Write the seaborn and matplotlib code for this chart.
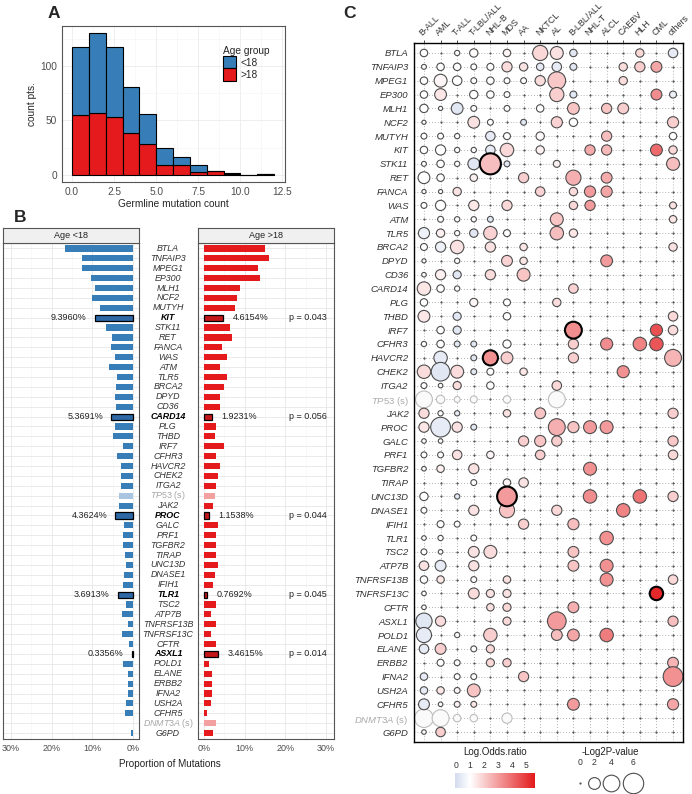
import numpy as np
import pandas as pd
import seaborn as sns
import matplotlib.pyplot as plt
import matplotlib.transforms as mtransforms
from matplotlib.colors import LinearSegmentedColormap, Normalize
from matplotlib.cm import ScalarMappable
from matplotlib.ticker import FuncFormatter

# --- panel A: germline mutation count histogram --------------------
bin_left = np.arange(12)
count_u18 = [62, 73, 64, 43, 28, 16, 7, 6, 0, 1, 0, 0]
count_o18 = [55, 57, 53, 38, 28, 9, 9, 3, 4, 1, 0, 1]

# --- panel B: proportion of mutations per gene ---------------------
genes = ["BTLA", "TNFAIP3", "MPEG1", "EP300", "MLH1", "NCF2", "MUTYH", "KIT",
         "STK11", "RET", "FANCA", "WAS", "ATM", "TLR5", "BRCA2", "DPYD", "CD36",
         "CARD14", "PLG", "THBD", "IRF7", "CFHR3", "HAVCR2", "CHEK2", "ITGA2",
         "TP53", "JAK2", "PROC", "GALC", "PRF1", "TGFBR2", "TIRAP", "UNC13D",
         "DNASE1", "IFIH1", "TLR1", "TSC2", "ATP7B", "TNFRSF13B", "TNFRSF13C",
         "CFTR", "ASXL1", "POLD1", "ELANE", "ERBB2", "IFNA2", "USH2A", "CFHR5",
         "DNMT3A", "G6PD"]
prop_u18 = [16.7, 12.5, 12.5, 10.4, 9.3, 10.0, 8.0, 9.396, 6.6, 5.2, 5.5, 4.5,
            5.8, 3.8, 4.2, 4.4, 4.2, 5.3691, 4.4, 4.8, 2.4, 3.8, 3.0, 3.0, 3.0,
            3.4, 3.4, 4.3624, 2.1, 2.4, 2.4, 1.9, 1.6, 2.1, 2.4, 3.6913, 1.7,
            2.8, 1.3, 2.8, 0.9, 0.3356, 2.4, 1.3, 1.3, 1.3, 1.6, 1.9, 0.0, 0.5]
prop_o18 = [14.9, 16.0, 13.3, 13.8, 8.8, 8.0, 7.7, 4.6154, 6.4, 6.8, 4.5, 5.7,
            3.8, 5.7, 5.0, 3.8, 3.8, 1.9231, 3.0, 2.6, 4.9, 3.0, 3.8, 3.4, 2.9,
            2.6, 2.2, 1.1538, 3.4, 3.0, 3.0, 3.0, 3.4, 2.6, 2.2, 0.7692, 3.0,
            1.6, 3.0, 1.6, 3.0, 3.4615, 1.1, 1.9, 1.9, 1.9, 1.6, 0.8, 3.0, 2.2]
sig_genes = ["KIT", "CARD14", "PROC", "TLR1", "ASXL1"]
sig_pvals = ["0.043", "0.056", "0.044", "0.045", "0.014"]
synonymous = ["TP53", "DNMT3A"]

# --- panel C: enrichment per cancer type ---------------------------
cancer_types = ["B-ALL", "AML", "T-ALL", "T-LBL/ALL", "NHL-B", "MDS", "AA",
                "NKTCL", "AL", "B-LBL/ALL", "NHL-T", "ALCL", "CAEBV", "HLH",
                "CML", "others"]
neg_log2p = [
    [0.8, 0, 0.4, 1.0, 0, 0.8, 0, 3.3, 2.4, 0.8, 0, 0, 0, 1.0, 0, 1.3],
    [0.35, 0.8, 0.8, 0.5, 0.7, 1.5, 1.0, 0.8, 1.3, 0.7, 0, 0, 1.0, 1.5, 1.7, 0],
    [0.8, 2.4, 1.3, 0.5, 0.8, 0.5, 0.5, 1.5, 4.5, 0, 0, 0, 1.0, 0, 0, 0],
    [0.8, 2.0, 0, 1.0, 0.8, 0.5, 0, 0, 2.9, 0.7, 0, 0, 0, 0, 1.7, 0.7],
    [1.0, 0.25, 2.0, 0.5, 0, 0.5, 0, 0.8, 0, 2.0, 0, 1.5, 1.7, 0, 0, 0],
    [0.25, 0, 0, 2.0, 0.5, 0, 0.5, 0, 1.8, 1.0, 0, 0, 0, 0, 0, 1.8],
    [0.5, 0.5, 0.4, 0, 1.3, 0.7, 0, 1.0, 0, 0, 0, 1.5, 0, 0, 0, 0.8],
    [0.8, 1.5, 0.4, 0.4, 1.3, 2.6, 0, 1.0, 0, 0, 1.5, 1.5, 0, 0, 2.0, 1.0],
    [0.35, 0.8, 0.4, 2.0, 6.4, 0.5, 0, 0, 0.7, 0, 0, 0, 0, 0, 0, 2.4],
    [2.0, 0.8, 0, 0.8, 0, 0, 1.5, 0, 0, 3.3, 0, 1.7, 0, 0, 0, 0],
    [0.25, 0.25, 1.0, 0, 0, 0, 0, 1.3, 0, 1.0, 1.8, 1.8, 0, 0, 0, 0],
    [0.5, 1.5, 0, 1.5, 0, 1.5, 0, 0, 0, 1.0, 1.5, 0, 0, 0, 0, 0.7],
    [0, 0.5, 0.4, 0.4, 0.5, 0, 0, 0, 2.4, 0, 0, 0, 0, 0, 0, 0.8],
    [1.8, 1.0, 0.4, 1.0, 2.6, 0.7, 0, 0, 2.6, 1.0, 0, 0, 0, 0, 0, 0],
    [0.7, 1.5, 2.6, 0, 1.5, 0, 0.8, 0, 0, 0, 0, 0, 0, 0, 0, 1.0],
    [0.25, 0, 0.4, 0, 0, 1.7, 0.8, 0, 0, 0, 0, 2.0, 0, 0, 0, 0],
    [0.3, 1.5, 0.95, 0, 1.5, 0, 2.4, 0, 0, 0, 0, 0, 0, 0, 0, 0],
    [2.6, 0.8, 0.4, 0, 0, 0, 0, 0, 0, 1.3, 0, 0, 0, 0, 0, 0],
    [0.8, 0, 0, 0.95, 0, 0.7, 0, 0, 1.0, 0, 0, 0, 0, 0, 0, 0],
    [2.0, 0, 0.95, 0, 0, 0.8, 0, 0, 0, 0, 0, 0, 0, 0, 0, 1.3],
    [0, 0.8, 0.95, 0, 0, 0, 0, 0, 0, 4.1, 0, 0, 0, 0, 2.1, 1.3],
    [0.4, 0.8, 0.5, 0.5, 0, 0.95, 0, 0, 0, 1.5, 0, 2.1, 0, 2.6, 2.6, 0],
    [0, 2.6, 0, 0.5, 3.3, 2.0, 0, 0, 0, 1.5, 0, 0, 0, 0, 0, 4.1],
    [2.6, 5.0, 2.4, 0.5, 0.7, 0, 0.8, 0, 0, 0, 0, 0, 2.1, 0, 0, 0],
    [0.5, 0.3, 0.95, 0, 0.8, 0, 0, 0, 1.3, 0, 0, 0, 0, 0, 0, 0],
    [4.1, 1.0, 0.5, 0.7, 0, 0.8, 0, 0, 4.1, 0, 0, 0, 0, 0, 0, 0],
    [1.5, 0.4, 0.4, 0, 0, 0.8, 0, 1.7, 0, 0, 0, 0, 0, 0, 0, 1.5],
    [1.5, 5.6, 1.5, 0.5, 0, 0, 0, 0, 4.1, 1.8, 2.4, 2.4, 0, 0, 0, 0],
    [0.3, 0.3, 0, 0, 0, 0, 1.5, 1.8, 1.5, 0, 0, 0, 0, 0, 0, 1.5],
    [0.5, 0.5, 1.3, 0, 0.8, 0, 0, 1.3, 0, 0, 0, 0, 0, 0, 0, 1.3],
    [0.3, 0.8, 0, 1.5, 0, 0, 0, 0, 0, 0, 2.4, 0, 0, 0, 0, 0],
    [0, 0, 0, 0.5, 0, 0.8, 1.3, 0, 0, 0, 0, 0, 0, 0, 0, 0],
    [1.0, 0, 0.4, 0, 0, 5.6, 0, 0, 0, 0, 2.6, 0, 0, 2.6, 0, 1.5],
    [0.5, 0, 0, 1.5, 0, 3.3, 0, 0, 1.5, 0, 0, 0, 2.6, 0, 0, 0],
    [0, 0.7, 0.5, 0, 0, 0, 1.5, 0, 0, 1.8, 0, 0, 0, 0, 0, 0],
    [0.3, 0.4, 0, 0.5, 0, 0, 0, 0, 0, 0, 0, 2.6, 0, 0, 0, 0],
    [0.5, 0.3, 0, 1.7, 2.4, 0, 0, 0, 0, 1.7, 0, 0, 0, 0, 0, 0],
    [1.3, 1.7, 0, 1.5, 0, 0, 0, 0, 0, 1.7, 0, 2.4, 0, 0, 0, 0],
    [0.8, 0.8, 0, 0.5, 0, 0.8, 0, 0, 0, 0, 0, 2.4, 0, 0, 0, 1.3],
    [0.3, 0, 0, 1.7, 0.95, 0.95, 0, 0, 0, 0, 0, 0, 0, 0, 2.6, 0],
    [0.3, 0, 0, 0, 0.8, 0.95, 0, 0, 0, 1.7, 0, 0, 0, 0, 0, 0],
    [3.8, 1.5, 0, 0, 0, 0.95, 0, 0, 5.0, 0, 0, 0, 0, 0, 0, 1.5],
    [3.3, 0, 0.4, 0, 2.6, 0, 0, 0, 1.7, 2.0, 0, 2.6, 0, 0, 0, 0],
    [1.3, 1.7, 0, 0.5, 0.95, 0, 0, 0, 0, 0, 0, 0, 0, 0, 0, 0],
    [0, 0.7, 0.5, 0, 0.95, 1.0, 0, 0, 0, 0, 0, 0, 0, 0, 0, 1.7],
    [0.8, 0, 0.5, 0.5, 0, 0, 1.5, 0, 0, 0, 0, 0, 0, 0, 0, 5.6],
    [0.8, 0.8, 0.5, 2.4, 0, 0, 0, 0, 0, 0, 0, 0, 0, 0, 0, 0],
    [1.7, 0.3, 0.5, 0.5, 0, 0, 0, 0, 0, 2.0, 0, 0, 0, 0, 0, 1.8],
    [5.0, 4.1, 0.8, 0.8, 0, 1.5, 0, 0, 0, 0, 0, 0, 0, 0, 0, 0],
    [0.3, 1.3, 0, 0, 0, 0, 0, 0, 0, 0, 0, 0, 0, 0, 0, 0],
]
log_odds = [
    [1.0, 0, 1.0, 1.1, 0, 1.2, 0, 1.8, 1.6, 0.3, 0, 0, 0, 1.8, 0, 0.4],
    [1.0, 1.0, 1.0, 1.0, 1.0, 1.7, 1.6, 0.4, 0.4, 0.3, 0, 0, 1.7, 2.0, 2.8, 0],
    [1.0, 1.2, 1.0, 1.0, 1.0, 1.0, 1.0, 1.7, 2.1, 0, 0, 0, 1.7, 0, 0, 0],
    [1.0, 1.5, 0, 1.0, 1.0, 1.0, 0, 0, 2.0, 0.3, 0, 0, 0, 0, 3.3, 0.6],
    [1.0, 1.0, 0.3, 1.0, 0, 1.0, 0, 1.0, 0, 2.2, 0, 2.2, 2.0, 0, 0, 0],
    [1.0, 0, 0, 1.6, 1.0, 0, 0.3, 0, 1.9, 1.0, 0, 0, 0, 0, 0, 2.0],
    [1.0, 1.0, 1.0, 0, 0.4, 1.0, 0, 1.1, 0, 0, 0, 2.3, 0, 0, 0, 1.0],
    [1.0, 1.0, 1.0, 1.0, 0.4, 1.8, 0, 1.3, 0, 0, 2.7, 2.4, 0, 0, 4.0, 1.8],
    [1.0, 1.0, 1.0, 0.3, 2.3, 0.3, 0, 0, 1.3, 0, 0, 0, 0, 0, 0, 2.3],
    [1.0, 1.0, 0, 1.3, 0, 0, 2.0, 0, 0, 2.6, 0, 2.7, 0, 0, 0, 0],
    [1.0, 1.0, 1.6, 0, 0, 0, 0, 1.9, 0, 1.7, 3.0, 2.8, 0, 0, 0, 0],
    [1.0, 1.0, 0, 1.5, 0, 1.8, 0, 0, 0, 1.8, 3.0, 0, 0, 0, 0, 1.6],
    [0, 1.0, 1.0, 1.0, 0.3, 0, 0, 0, 2.2, 0, 0, 0, 0, 0, 0, 1.5],
    [0.6, 1.3, 1.0, 0.3, 1.9, 1.0, 0, 0, 2.3, 1.5, 0, 0, 0, 0, 0, 0],
    [1.0, 0.6, 1.6, 0, 1.6, 0, 1.5, 0, 0, 0, 0, 0, 0, 0, 0, 1.6],
    [1.0, 0, 1.0, 0, 0, 1.9, 1.5, 0, 0, 0, 0, 3.0, 0, 0, 0, 0],
    [1.0, 1.3, 0.3, 0, 1.7, 0, 2.2, 0, 0, 0, 0, 0, 0, 0, 0, 0],
    [1.5, 1.0, 1.0, 0, 0, 0, 0, 0, 0, 1.9, 0, 0, 0, 0, 0, 0],
    [1.0, 0, 0, 1.2, 0, 1.0, 0, 0, 1.7, 0, 0, 0, 0, 0, 0, 0],
    [1.5, 0, 0.3, 0, 0, 1.0, 0, 0, 0, 0, 0, 0, 0, 0, 0, 1.8],
    [0, 1.0, 0.3, 0, 0, 0, 0, 0, 0, 3.3, 0, 0, 0, 0, 4.5, 1.7],
    [1.0, 1.0, 0.3, 0.3, 0, 1.0, 0, 0, 0, 2.0, 0, 3.3, 0, 3.5, 4.4, 0],
    [0, 0.4, 0, 0.3, 3.2, 2.0, 0, 0, 0, 2.0, 0, 0, 0, 0, 0, 2.5],
    [1.7, 0.3, 1.7, 0.3, 1.0, 0, 1.5, 0, 0, 0, 0, 0, 3.2, 0, 0, 0],
    [1.0, 1.0, 1.7, 0, 1.0, 0, 0, 0, 1.8, 0, 0, 0, 0, 0, 0, 0],
    [1.0, 1.0, 1.0, 1.0, 0, 1.0, 0, 0, 1.0, 0, 0, 0, 0, 0, 0, 0],
    [1.7, 1.0, 0.4, 0, 0, 1.6, 0, 2.2, 0, 0, 0, 0, 0, 0, 0, 2.0],
    [1.5, 0.4, 1.6, 0.3, 0, 0, 0, 0, 2.6, 2.2, 3.0, 3.0, 0, 0, 0, 0],
    [1.0, 1.0, 0, 0, 0, 0, 2.0, 2.2, 2.0, 0, 0, 0, 0, 0, 0, 2.1],
    [1.0, 1.0, 1.6, 0, 1.2, 0, 0, 2.0, 0, 0, 0, 0, 0, 0, 0, 1.8],
    [1.0, 1.3, 0, 1.6, 0, 0, 0, 0, 0, 0, 3.2, 0, 0, 0, 0, 0],
    [0, 0, 0, 1.0, 0, 1.2, 1.6, 0, 0, 0, 0, 0, 0, 0, 0, 0],
    [1.0, 0, 0.3, 0, 0, 3.0, 0, 0, 0, 0, 3.3, 0, 0, 3.8, 0, 2.0],
    [1.0, 0, 0, 1.6, 0, 2.2, 0, 0, 1.8, 0, 0, 0, 3.5, 0, 0, 0],
    [0, 1.0, 1.0, 0, 0, 0, 2.0, 0, 0, 2.3, 0, 0, 0, 0, 0, 0],
    [1.0, 1.0, 0, 1.0, 0, 0, 0, 0, 0, 0, 0, 3.2, 0, 0, 0, 0],
    [1.0, 1.0, 0, 1.6, 1.7, 0, 0, 0, 0, 2.2, 0, 0, 0, 0, 0, 0],
    [1.6, 0.4, 0, 1.6, 0, 0, 0, 0, 0, 2.2, 0, 3.2, 0, 0, 0, 0],
    [1.0, 1.5, 0, 1.0, 0, 1.6, 0, 0, 0, 0, 0, 3.2, 0, 0, 0, 1.8],
    [1.0, 0, 0, 1.7, 1.6, 1.6, 0, 0, 0, 0, 0, 0, 0, 0, 5.3, 0],
    [1.0, 0, 0, 0, 1.6, 1.8, 0, 0, 0, 2.6, 0, 0, 0, 0, 0, 0],
    [0.3, 1.7, 0, 0, 0, 1.8, 0, 0, 3.0, 0, 0, 0, 0, 0, 0, 2.3],
    [0.4, 0, 1.0, 0, 2.0, 0, 0, 0, 2.3, 2.8, 0, 3.6, 0, 0, 0, 0],
    [0.4, 2.0, 0, 1.0, 1.8, 0, 0, 0, 0, 0, 0, 0, 0, 0, 0, 0],
    [0, 1.0, 1.0, 0, 1.8, 2.0, 0, 0, 0, 0, 0, 0, 0, 0, 0, 2.5],
    [0.4, 0, 1.0, 1.0, 0, 0, 2.2, 0, 0, 0, 0, 0, 0, 0, 0, 3.2],
    [0.4, 1.5, 1.2, 2.2, 0, 0, 0, 0, 0, 0, 0, 0, 0, 0, 0, 0],
    [0.4, 1.0, 1.3, 1.5, 0, 0, 0, 0, 0, 3.0, 0, 0, 0, 0, 0, 2.8],
    [1.0, 1.0, 1.0, 1.0, 0, 1.0, 0, 0, 0, 0, 0, 0, 0, 0, 0, 0],
    [1.0, 2.0, 0, 0, 0, 0, 0, 0, 0, 0, 0, 0, 0, 0, 0, 0],
]
strong_cells = [("STK11", "NHL-B"), ("IRF7", "B-LBL/ALL"), ("HAVCR2", "NHL-B"),
                ("UNC13D", "MDS"), ("TNFRSF13C", "CML")]

BLUE, RED = "#377EB8", "#E41A1C"
BLUE_DARK, RED_DARK = "#2E69A6", "#C4171A"
BLUE_PALE, RED_PALE = "#A9C5E2", "#F2A0A0"

sns.set_style("white")
plt.rcParams["font.family"] = ["Liberation Sans", "DejaVu Sans"]
plt.rcParams["mathtext.fontset"] = "custom"
plt.rcParams["mathtext.it"] = "Liberation Sans:italic"
plt.rcParams["mathtext.rm"] = "Liberation Sans"

W, H = 692, 794
fig = plt.figure(figsize=(W / 100, H / 100), dpi=100)


def px_axes(x0, y0, x1, y1):
    return fig.add_axes([x0 / W, 1 - y1 / H, (x1 - x0) / W, (y1 - y0) / H])


def frame(ax, color="#333333", lw=0.8):
    for sp in ax.spines.values():
        sp.set_visible(True)
        sp.set_color(color)
        sp.set_linewidth(lw)


# --- A -------------------------------------------------------------
axA = px_axes(62, 26, 285, 182)
dfA = pd.DataFrame({
    "mutations": np.concatenate([bin_left + 0.5, bin_left + 0.5]),
    "n": count_u18 + count_o18,
    "Age group": ["<18"] * len(bin_left) + [">18"] * len(bin_left),
})
sns.histplot(data=dfA, x="mutations", weights="n", hue="Age group",
             hue_order=["<18", ">18"], multiple="stack", binwidth=1,
             binrange=(0, 12), palette={"<18": BLUE, ">18": RED},
             edgecolor="black", linewidth=0.8, alpha=1, ax=axA)
sns.move_legend(axA, "upper left", bbox_to_anchor=(0.68, 0.93), frameon=False,
                title="Age group", fontsize=7.3, title_fontsize=7.3,
                handlelength=1.3, handleheight=1.5, labelspacing=0,
                handletextpad=0.4, alignment="left")
axA.set_xlim(-0.6, 12.65)
axA.set_ylim(-6.5, 136.5)
axA.set_xticks([0, 2.5, 5, 7.5, 10, 12.5])
axA.set_xticklabels(["0.0", "2.5", "5.0", "7.5", "10.0", "12.5"])
axA.set_xticks(np.arange(1.25, 12.6, 2.5), minor=True)
axA.set_yticks([0, 50, 100])
axA.set_yticks([25, 75, 125], minor=True)
axA.grid(which="major", color="#EBEBEB", lw=0.6)
axA.grid(which="minor", color="#F4F4F4", lw=0.4)
axA.set_axisbelow(True)
axA.tick_params(which="major", length=2, labelsize=7.3, colors="#4D4D4D", pad=1.5)
axA.tick_params(which="minor", length=0)
axA.set_xlabel("Germline mutation count", fontsize=7.3, labelpad=1.5)
axA.set_ylabel("count pts.", fontsize=7.3, labelpad=2)
frame(axA, "#555555")

# --- B -------------------------------------------------------------
axL = px_axes(3, 243, 139, 739)
axR = px_axes(198, 243, 334, 739)
dfB = pd.DataFrame({"gene": genes, "u18": prop_u18, "o18": prop_o18})


def bar_palette(base, strong, pale):
    return {g: pale if g in synonymous else strong if g in sig_genes else base
            for g in genes}


sns.barplot(data=dfB, x="u18", y="gene", hue="gene", legend=False, saturation=1,
            palette=bar_palette(BLUE, BLUE_DARK, BLUE_PALE), width=0.62, ax=axL)
sns.barplot(data=dfB, x="o18", y="gene", hue="gene", legend=False, saturation=1,
            palette=bar_palette(RED, RED_DARK, RED_PALE), width=0.62, ax=axR)

for ax in (axL, axR):
    for bar in ax.patches:
        row = int(round(bar.get_y() + bar.get_height() / 2))
        if genes[row] in sig_genes:
            bar.set_edgecolor("black")
            bar.set_linewidth(0.9)
        else:
            bar.set_linewidth(0)
    ax.set_ylim(49.6, -0.55)
    ax.set_yticks(range(len(genes)))
    ax.set_yticklabels([])
    ax.tick_params(axis="y", length=0)
    ax.set_xticks([0, 10, 20, 30])
    ax.set_xticks([5, 15, 25], minor=True)
    ax.xaxis.set_major_formatter(FuncFormatter(lambda v, _: f"{v:.0f}%"))
    ax.grid(which="major", color="#E6E6E6", lw=0.6)
    ax.grid(which="minor", axis="x", color="#F3F3F3", lw=0.4)
    ax.set_axisbelow(True)
    ax.set_xlabel("")
    ax.set_ylabel("")
    ax.tick_params(axis="x", which="major", length=2, labelsize=6.5,
                   colors="#4D4D4D", pad=1.5)
    ax.tick_params(axis="x", which="minor", length=0)
    frame(ax, "#555555")
axL.set_xlim(32, -1.5)
axR.set_xlim(-1.5, 32)

for ax, label in ((axL, "Age <18"), (axR, "Age >18")):
    pos = ax.get_position()
    strip = fig.add_axes([pos.x0, pos.y1, pos.width, 15 / H])
    strip.set_facecolor("#F0F0F0")
    strip.set_xticks([])
    strip.set_yticks([])
    frame(strip, "#555555")
    strip.text(0.5, 0.5, label, ha="center", va="center", fontsize=6.5,
               color="#222222", transform=strip.transAxes)

for g, p in zip(sig_genes, sig_pvals):
    i = genes.index(g)
    axL.text(prop_u18[i] + 2.0, i, f"{prop_u18[i]:.4f}%", ha="right",
             va="center", fontsize=6.5, color="#222222")
    axR.text(prop_o18[i] + 2.4, i, f"{prop_o18[i]:.4f}%", ha="left",
             va="center", fontsize=6.5, color="#222222")
    axR.text(25.5, i, f"p = {p}", ha="center", va="center", fontsize=6.5,
             color="#222222")

mid = mtransforms.blended_transform_factory(fig.transFigure, axL.transData)
for i, g in enumerate(genes):
    if g in synonymous:
        txt, kw = rf"$\mathit{{{g}}}$ (s)", dict(color="#A6A6A6")
    elif g in sig_genes:
        txt, kw = g, dict(fontstyle="italic", fontweight="bold", color="black")
    else:
        txt, kw = g, dict(fontstyle="italic", color="#333333")
    fig.text(168 / W, i, txt, transform=mid, ha="center", va="center",
             fontsize=6.4, **kw)

fig.text(170 / W, 1 - 764 / H, "Proportion of Mutations", ha="center",
         va="center", fontsize=7.1, color="#222222")

# --- C -------------------------------------------------------------
axC = px_axes(414, 43, 683, 742)
cells = pd.DataFrame([
    {"gene": g, "row": i, "type": t, "col": j,
     "nlp": neg_log2p[i][j], "lor": log_odds[i][j]}
    for i, g in enumerate(genes) for j, t in enumerate(cancer_types)
])
cells["strong"] = [(g, t) in strong_cells for g, t in zip(cells.gene, cells.type)]
cells["faded"] = cells.gene.isin(synonymous)

lor_cmap = LinearSegmentedColormap.from_list(
    "lor", [(0, "#D3DCEE"), (1.05 / 5.65, "#FFFFFF"), (1, "#E31A1C")])
lor_norm = Normalize(-0.05, 5.6)
S_PER_UNIT, NLP_MAX = 36, 8
size_kw = dict(size="nlp", sizes=(0, S_PER_UNIT * NLP_MAX),
               size_norm=(0, NLP_MAX), legend=False, ax=axC)

empty = cells[cells.nlp == 0]
faded = cells[(cells.nlp > 0) & cells.faded]
normal = cells[(cells.nlp > 0) & ~cells.faded & ~cells.strong]
strong = cells[cells.strong]

sns.scatterplot(data=empty, x="col", y="row", color="#555555", s=2.5,
                linewidth=0, legend=False, ax=axC)
sns.scatterplot(data=faded, x="col", y="row", color="#FAFAFA",
                edgecolor="#BDBDBD", linewidth=0.8, **size_kw)
sns.scatterplot(data=normal, x="col", y="row", hue="lor", palette=lor_cmap,
                hue_norm=lor_norm, edgecolor="#4D4D4D", linewidth=0.8, **size_kw)
sns.scatterplot(data=strong, x="col", y="row", hue="lor", palette=lor_cmap,
                hue_norm=lor_norm, edgecolor="black", linewidth=1.5, **size_kw)

axC.set_xlim(-0.6, len(cancer_types) - 0.4)
axC.set_ylim(len(genes) - 0.28, -0.72)
axC.set_xlabel("")
axC.set_ylabel("")
axC.xaxis.tick_top()
axC.set_xticks(range(len(cancer_types)))
axC.set_xticklabels(cancer_types, rotation=45, ha="left", va="bottom",
                    rotation_mode="anchor", fontsize=6.4, color="#333333")
shift_left = mtransforms.ScaledTranslation(-2 / 100, 0, fig.dpi_scale_trans)
for lbl in axC.get_xticklabels():
    lbl.set_transform(lbl.get_transform() + shift_left)
row_labels = [rf"$\mathit{{{g}}}$ (s)" if g in synonymous else g for g in genes]
axC.set_yticks(range(len(genes)))
axC.set_yticklabels(row_labels, fontsize=6.8)
for lbl, g in zip(axC.get_yticklabels(), genes):
    if g in synonymous:
        lbl.set_color("#ABABAB")
    else:
        lbl.set_fontstyle("italic")
        lbl.set_color("#333333")
axC.tick_params(axis="both", length=2.5, width=0.6, color="#333333", pad=1.5)
axC.grid(True, linestyle=(0, (1, 2.5)), color="#9A9A9A", lw=0.6)
axC.set_axisbelow(True)
frame(axC, "black", 1.0)

# colour legend
cax = px_axes(455, 773, 535, 788)
cb = fig.colorbar(ScalarMappable(norm=lor_norm, cmap=lor_cmap), cax=cax,
                  orientation="horizontal")
cb.outline.set_visible(False)
cax.xaxis.set_ticks_position("top")
cb.set_ticks(range(6))
cax.tick_params(length=0, labelsize=6.2, pad=2.5, colors="#333333")
fig.text(495 / W, 1 - 752 / H, "Log.Odds.ratio", ha="center", va="center",
         fontsize=7, color="#222222")

# size legend
axS = px_axes(565, 745, 660, 794)
axS.set_xlim(565, 660)
axS.set_ylim(794, 745)
axS.axis("off")
legend_vals = [0, 2, 4, 6]
x_key, prev_w = 580, None
for v in legend_vals:
    d_px = np.sqrt(S_PER_UNIT * v) * 100 / 72
    w_key = max(d_px, 10)
    if prev_w is not None:
        x_key += (prev_w + w_key) / 2 + 3
    prev_w = w_key
    if v == 0:
        axS.scatter([x_key], [783], s=2.5, color="#555555", linewidth=0,
                    clip_on=False)
    else:
        axS.scatter([x_key], [783], s=S_PER_UNIT * v, facecolor="white",
                    edgecolor="#4D4D4D", linewidth=0.8, clip_on=False)
    axS.text(x_key, 763, str(v), ha="center", va="center", fontsize=6.2,
             color="#333333")
fig.text(610 / W, 1 - 752 / H, "-Log2P-value", ha="center", va="center",
         fontsize=7, color="#222222")

# panel letters
for letter, (x, y) in {"A": (54, 14), "B": (20, 217), "C": (349, 14)}.items():
    fig.text(x / W, 1 - y / H, letter, ha="center", va="center",
             fontsize=12.5, fontweight="bold")

fig.savefig("out.png", dpi=100)
